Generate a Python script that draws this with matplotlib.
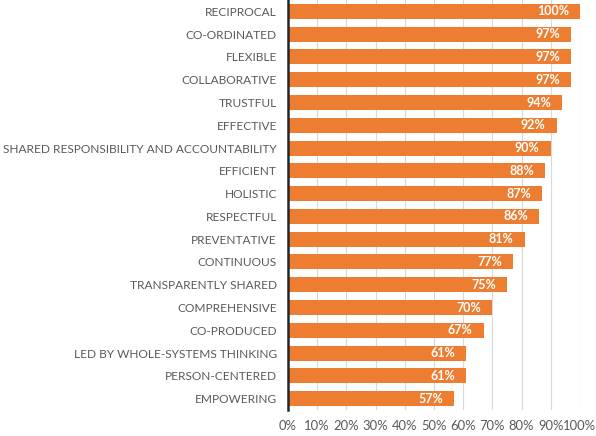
import matplotlib
matplotlib.use("Agg")
import matplotlib.pyplot as plt
from matplotlib.ticker import FuncFormatter

categories = ["RECIPROCAL", "CO-ORDINATED", "FLEXIBLE", "COLLABORATIVE", "TRUSTFUL",
              "EFFECTIVE", "SHARED RESPONSIBILITY AND ACCOUNTABILITY", "EFFICIENT",
              "HOLISTIC", "RESPECTFUL", "PREVENTATIVE", "CONTINUOUS",
              "TRANSPARENTLY SHARED", "COMPREHENSIVE", "CO-PRODUCED",
              "LED BY WHOLE-SYSTEMS THINKING", "PERSON-CENTERED", "EMPOWERING"]
values = [100, 97, 97, 97, 94, 92, 90, 88, 87, 86, 81, 77, 75, 70, 67, 61, 61, 57]
xticks = [0, 10, 20, 30, 40, 50, 60, 70, 80, 90, 100]

plt.rcParams['font.family'] = ['Lato', 'DejaVu Sans']

fig = plt.figure(figsize=(5.96, 4.36), dpi=100)
ax = fig.add_axes([288/596, 1 - 410/436, (580-288)/596, 410/436])

n = len(categories)
ypos = list(range(n))
bars = ax.barh(ypos, values, height=0.66, color="#ED7D31", zorder=3)
ax.set_ylim(n - 0.5, -0.5)
ax.set_xlim(0, 100)
ax.set_yticks(ypos)
ax.set_yticklabels(categories, fontsize=8.6, color="#595959")
ax.set_xticks(xticks)
ax.xaxis.set_major_formatter(FuncFormatter(lambda v, p: f"{int(v)}%"))
ax.tick_params(axis='x', length=0, labelsize=9.4, labelcolor="#595959", pad=7)
ax.tick_params(axis='y', length=0, pad=8)
ax.grid(axis='x', color="#D9D9D9", linewidth=0.8, zorder=0)
for s in ["top", "right", "bottom"]:
    ax.spines[s].set_visible(False)
ax.spines["left"].set_color("#262626")
ax.spines["left"].set_linewidth(1.8)
ax.spines["left"].set_zorder(4)

for y, v in zip(ypos, values):
    ax.text(v - 3.8, y, f"{v}%", ha="right", va="center", color="white",
            fontsize=9, fontweight="bold", zorder=5)

fig.savefig("out.png", dpi=100)
